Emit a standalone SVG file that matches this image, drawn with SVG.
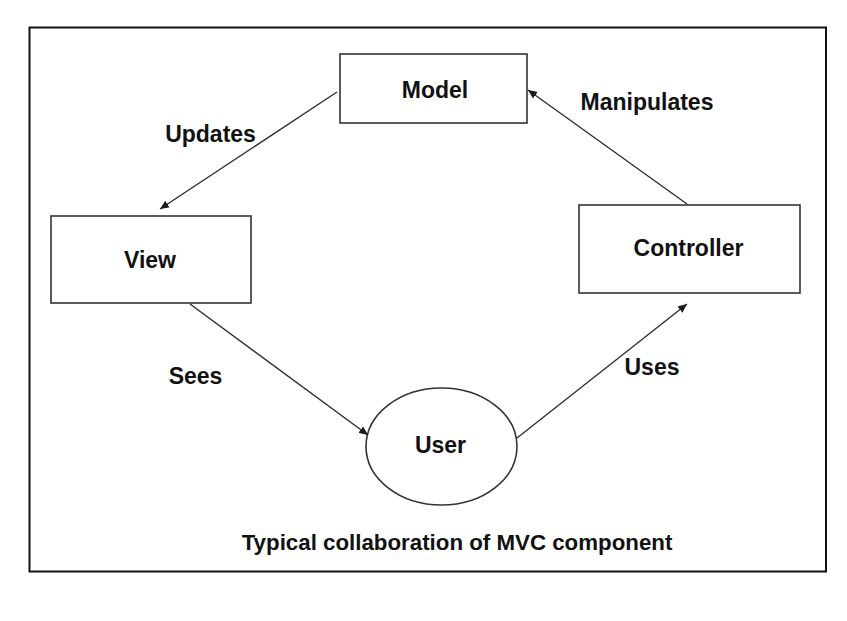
<svg xmlns="http://www.w3.org/2000/svg" width="847" height="621" viewBox="0 0 847 621">
<defs>
<marker id="arr" markerUnits="userSpaceOnUse" markerWidth="10" markerHeight="8" refX="9" refY="4" orient="auto">
<path d="M0,0 L9,4 L0,8 Z" fill="#1a1a1a"/>
</marker>
<style>
.box{fill:#fff;stroke:#333;stroke-width:1.6}
.t{font-family:"Liberation Sans",Arial,sans-serif;font-weight:bold;font-size:23px;fill:#111;text-anchor:middle}
.cap{font-size:22.3px}
.c{stroke:#2a2a2a;stroke-width:1.3;fill:none;marker-end:url(#arr)}
</style>
</defs>
<rect width="847" height="621" fill="#fff"/>
<rect x="29.5" y="27.5" width="796.5" height="544" fill="#fff" stroke="#111" stroke-width="2"/>
<g id="model"><rect class="box" x="340" y="54" width="187" height="69"/><text class="t" x="435" y="98">Model</text></g>
<g id="view"><rect class="box" x="51" y="216" width="200" height="87"/><text class="t" x="150" y="268">View</text></g>
<g id="controller"><rect class="box" x="579" y="205" width="221" height="88"/><text class="t" x="688.5" y="256">Controller</text></g>
<g id="user"><ellipse class="box" cx="441.5" cy="446.5" rx="75.5" ry="58.5"/><text class="t" x="440.5" y="453">User</text></g>
<g id="connectors">
<line class="c" x1="337" y1="92" x2="160" y2="209"/>
<line class="c" x1="687" y1="204" x2="528" y2="90"/>
<line class="c" x1="190" y1="304" x2="368" y2="435"/>
<line class="c" x1="517" y1="438" x2="687" y2="304"/>
<text class="t" x="210.5" y="142">Updates</text>
<text class="t" x="647" y="110">Manipulates</text>
<text class="t" x="195.5" y="384">Sees</text>
<text class="t" x="652" y="375">Uses</text>
</g>
<text class="t cap" x="457" y="550">Typical collaboration of MVC component</text>
</svg>
